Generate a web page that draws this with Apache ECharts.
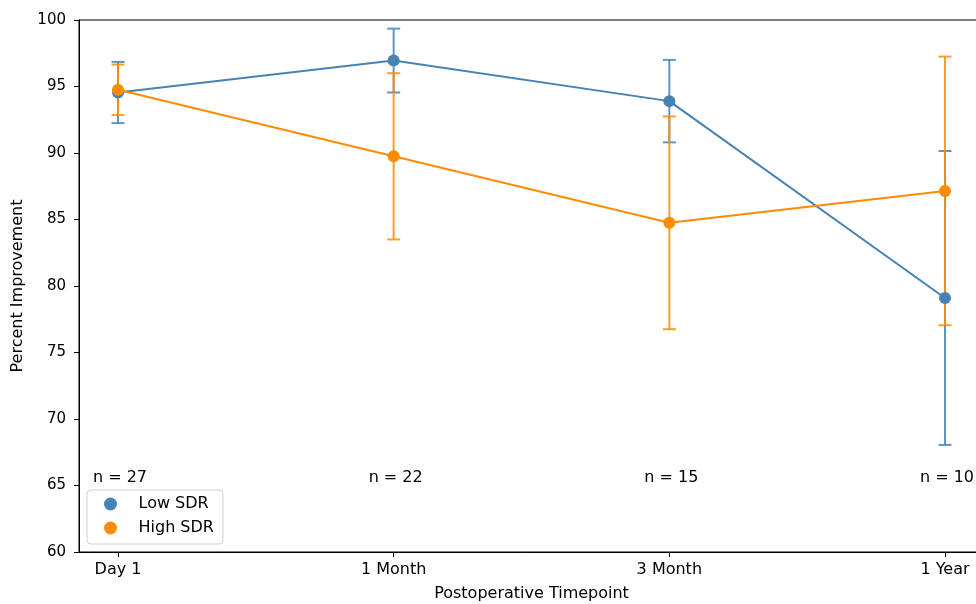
<!DOCTYPE html>
<html><head><meta charset="utf-8">
<script src="https://cdn.jsdelivr.net/npm/echarts@6/dist/echarts.min.js"></script>
<style>html,body{margin:0;padding:0;background:#fff}#c{width:976px;height:604px}</style>
</head><body><div id="c"></div>
<script>
const categories = ['Day 1', '1 Month', '3 Month', '1 Year'];
const lowMean = [94.55, 96.95, 93.9, 79.1];
const lowErr = [2.3, 2.4, 3.1, 11.05];
const highMean = [94.75, 89.75, 84.75, 87.15];
const highErr = [1.9, 6.25, 8.0, 10.1];
const nLabels = ['n = 27', 'n = 22', 'n = 15', 'n = 10'];
const nLabelY = 65.6;
const yTicks = [60, 65, 70, 75, 80, 85, 90, 95, 100];

const BLUE = '#4682b4', ORANGE = '#ff8c00';
const FONT = 'DejaVu Sans';

function errData(mean, err) {
  return mean.map((m, i) => [i, m - err[i], m + err[i]]);
}
function errSeries(name, mean, err, color) {
  return {
    type: 'custom', name: name + ' err', silent: true,
    data: errData(mean, err),
    encode: { x: 0, y: [1, 2] },
    z: 2,
    renderItem: function (params, api) {
      const x = api.value(0);
      const lo = api.coord([x, api.value(1)]);
      const hi = api.coord([x, api.value(2)]);
      const hw = 6.5;
      const st = { stroke: color, lineWidth: 2, opacity: 0.85 };
      return { type: 'group', children: [
        { type: 'line', shape: { x1: lo[0], y1: lo[1], x2: hi[0], y2: hi[1] }, style: st },
        { type: 'line', shape: { x1: lo[0] - hw, y1: lo[1], x2: lo[0] + hw, y2: lo[1] }, style: st },
        { type: 'line', shape: { x1: hi[0] - hw, y1: hi[1], x2: hi[0] + hw, y2: hi[1] }, style: st }
      ]};
    }
  };
}
function lineSeries(name, mean, color, z) {
  return {
    type: 'line', name: name,
    data: mean.map((m, i) => [i, m]),
    symbol: 'circle', symbolSize: 12, showSymbol: true,
    lineStyle: { color: color, width: 2 },
    itemStyle: { color: color },
    z: z
  };
}

const chart = echarts.init(document.getElementById('c'), null, { renderer: 'canvas' });
chart.setOption({
  animation: false,
  backgroundColor: '#fff',
  textStyle: { fontFamily: FONT },
  grid: { left: 79, top: 20, bottom: 52, width: 905, outerBoundsMode: 'none', containLabel: false, show: true, borderColor: '#000', borderWidth: 1, backgroundColor: 'transparent' },
  legend: {
    left: 87, top: 490, orient: 'vertical',
    data: [{ name: 'Low SDR', itemStyle: { color: BLUE } }, { name: 'High SDR', itemStyle: { color: ORANGE } }],
    icon: 'circle', itemWidth: 34, itemHeight: 13, itemGap: 8,
    padding: [6, 9, 8, 17],
    borderColor: '#d0d0d0', borderWidth: 1, borderRadius: 4, backgroundColor: 'rgba(255,255,255,0.85)',
    textStyle: { fontFamily: FONT, fontSize: 16, color: '#000', padding: [0, 0, 0, 6] }
  },
  xAxis: {
    type: 'value', min: -0.1415, max: 3.1415,
    name: 'Postoperative Timepoint', nameLocation: 'middle', nameGap: 34,
    nameTextStyle: { fontFamily: FONT, fontSize: 16, color: '#000' },
    axisLine: { show: true, onZero: false, lineStyle: { color: '#000', width: 1 } },
    axisTick: { show: true, customValues: [0, 1, 2, 3], length: 5, lineStyle: { color: '#000' } },
    axisLabel: { customValues: [0, 1, 2, 3], formatter: v => categories[Math.round(v)], fontFamily: FONT, fontSize: 16, color: '#000', margin: 10 },
    splitLine: { show: false }
  },
  yAxis: {
    type: 'value', min: yTicks[0], max: yTicks[yTicks.length - 1], interval: 5,
    name: 'Percent Improvement', nameLocation: 'middle', nameGap: 53,
    nameTextStyle: { fontFamily: FONT, fontSize: 16, color: '#000' },
    axisLine: { show: true, onZero: false, lineStyle: { color: '#000', width: 1 } },
    axisTick: { show: true, length: 5, lineStyle: { color: '#000' } },
    axisLabel: { fontFamily: FONT, fontSize: 15, color: '#000', margin: 13 },
    splitLine: { show: false }
  },
  series: [
    errSeries('Low SDR', lowMean, lowErr, BLUE),
    errSeries('High SDR', highMean, highErr, ORANGE),
    lineSeries('Low SDR', lowMean, BLUE, 3),
    lineSeries('High SDR', highMean, ORANGE, 4),
    {
      type: 'custom', name: 'n', silent: true,
      data: nLabels.map((t, i) => [i, nLabelY]),
      encode: { x: 0, y: 1 },
      z: 5,
      renderItem: function (params, api) {
        const p = api.coord([api.value(0), api.value(1)]);
        return { type: 'text', x: p[0] + 2, y: p[1], style: { text: nLabels[params.dataIndex], fill: '#000', font: '16px "DejaVu Sans"', align: 'center', verticalAlign: 'middle' } };
      }
    }
  ]
});
</script></body></html>
